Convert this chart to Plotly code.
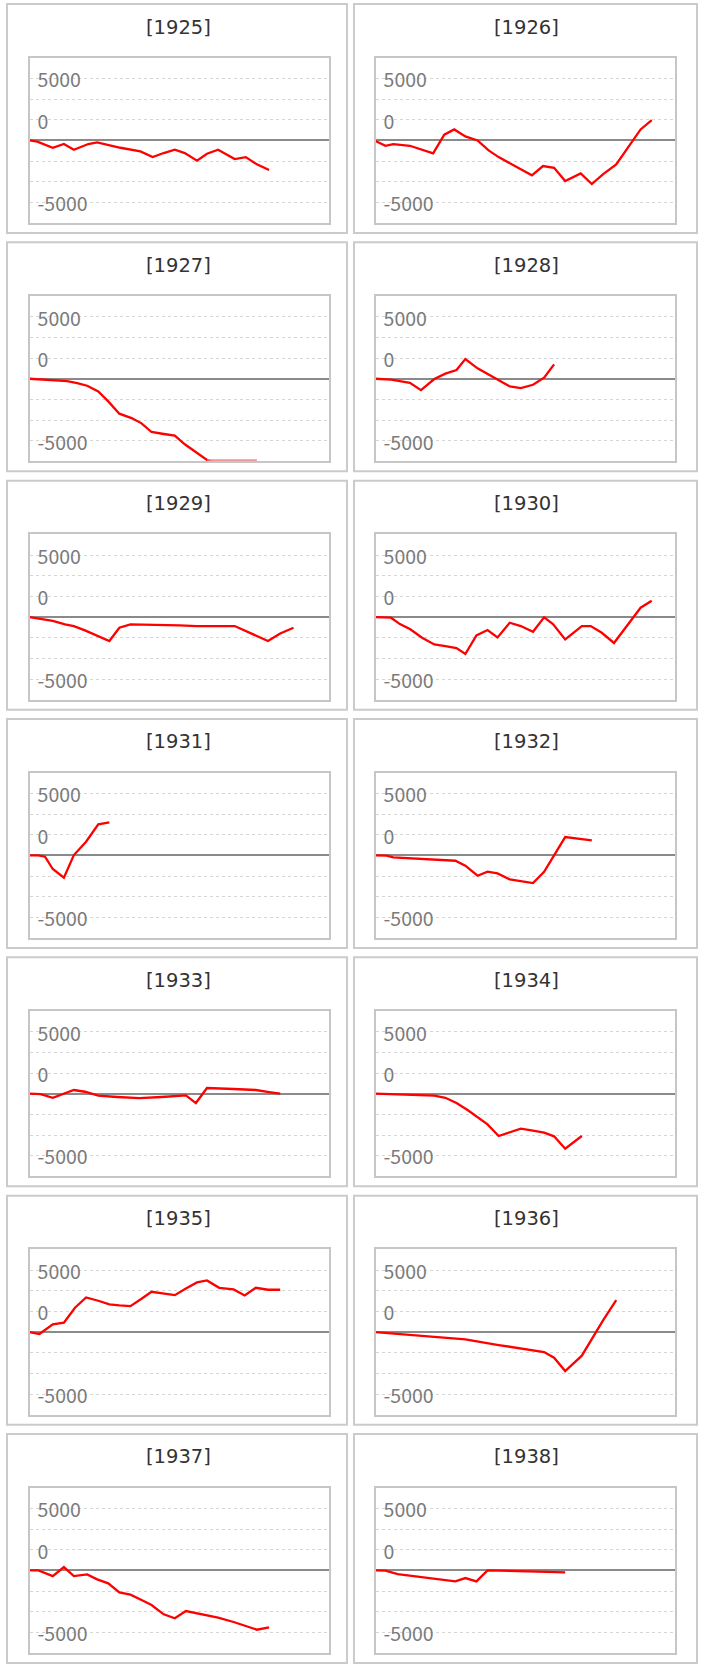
import plotly.graph_objects as go

W, H = 704, 1667

years = [1925, 1926, 1927, 1928, 1929, 1930, 1931, 1932, 1933, 1934, 1935, 1936, 1937, 1938]

x_1925 = [0, 0.7, 2.1, 3.1, 4.0, 5.3, 6.1, 8.2, 10.0, 11.1, 12.1, 13.1, 14.0, 15.1, 16.0, 17.0, 18.5, 19.5, 20.5, 21.6]
v_1925 = [0, -160, -890, -440, -1130, -440, -240, -890, -1330, -2020, -1530, -1130, -1530, -2460, -1610, -1130, -2260, -2020, -2900, -3590]

x_1926 = [0, 0.9, 1.6, 3.1, 5.2, 6.2, 7.1, 8.1, 9.2, 10.2, 11.1, 13.1, 14.1, 15.1, 16.1, 17.1, 18.5, 19.5, 20.5, 21.7, 22.8, 23.9, 24.9]
v_1926 = [-80, -650, -450, -650, -1570, 690, 1330, 490, 0, -1210, -2020, -3470, -4230, -3100, -3310, -4920, -3990, -5280, -4110, -2900, -730, 1330, 2460]

x_1927 = [0, 1.9, 3.4, 4.3, 5.2, 6.2, 7.1, 8.1, 9.2, 10.1, 11.0, 12.1, 13.1, 14.0, 15.1, 16.0, 17.5, 19.0, 20.5]
v_1927 = [0, -120, -280, -530, -850, -1530, -2740, -4230, -4760, -5400, -6450, -6690, -6890, -7940, -9030, -9830, -10600, -11000, -11200]

x_1928 = [0, 1.4, 3.1, 4.1, 5.3, 6.3, 7.3, 8.1, 9.2, 10.1, 11.0, 12.1, 13.1, 14.2, 15.2, 16.1]
v_1928 = [0, -120, -490, -1380, -40, 610, 1050, 2390, 1260, 610, -40, -930, -1130, -730, 120, 1740]

x_1929 = [0, 1.0, 2.1, 3.2, 4.0, 5.0, 6.2, 7.2, 8.1, 9.1, 13.5, 15.1, 18.5, 20.0, 21.5, 22.6, 23.8]
v_1929 = [0, -240, -450, -890, -1090, -1610, -2340, -2900, -1290, -890, -1010, -1090, -1090, -1980, -2900, -1980, -1290]

x_1930 = [0, 1.4, 2.2, 3.1, 4.2, 5.3, 6.3, 7.3, 8.1, 9.1, 10.1, 11.0, 12.1, 13.1, 14.2, 15.2, 16.0, 17.1, 18.6, 19.4, 20.4, 21.5, 23.9, 24.9]
v_1930 = [0, -80, -850, -1450, -2500, -3310, -3510, -3750, -4470, -2220, -1570, -2460, -690, -1090, -1780, -40, -850, -2700, -1090, -1090, -1900, -3140, 1130, 1980]

x_1931 = [0, 0.8, 1.4, 2.1, 3.1, 4.0, 5.1, 6.2, 7.2]
v_1931 = [0, 0, -160, -1650, -2700, 40, 1650, 3750, 3990]

x_1932 = [0, 1.0, 1.6, 7.2, 8.1, 9.2, 10.1, 11.0, 12.1, 13.1, 14.2, 15.2, 17.1, 19.5]
v_1932 = [0, -40, -240, -650, -1250, -2460, -1980, -2180, -2900, -3100, -3350, -1980, 2220, 1820]

x_1933 = [0, 1.0, 2.1, 3.0, 4.0, 5.0, 6.2, 7.9, 9.9, 11.9, 14.1, 15.0, 16.0, 18.4, 20.4, 21.6, 22.6]
v_1933 = [0, -40, -490, -40, 450, 240, -240, -400, -530, -400, -200, -1130, 690, 570, 450, 200, 0]

x_1934 = [0, 5.3, 6.3, 7.3, 8.3, 9.2, 10.1, 11.1, 12.1, 13.1, 14.2, 15.2, 16.1, 17.1, 18.6]
v_1934 = [0, -240, -490, -1130, -1980, -2820, -3710, -5120, -4720, -4230, -4470, -4720, -5160, -6650, -5120]

x_1935 = [0, 0.9, 2.1, 3.1, 4.1, 5.1, 6.2, 7.2, 8.1, 9.1, 10.1, 11.0, 12.0, 13.1, 14.1, 15.1, 16.0, 17.1, 18.4, 19.4, 20.4, 21.5, 22.6]
v_1935 = [0, -240, 930, 1130, 2940, 4190, 3790, 3350, 3230, 3140, 4030, 4880, 4680, 4470, 5280, 6010, 6250, 5360, 5160, 4430, 5360, 5120, 5120]

x_1936 = [0, 4.0, 8.1, 11.1, 13.1, 15.2, 16.1, 17.1, 18.6, 19.5, 20.5, 21.7]
v_1936 = [0, -450, -890, -1570, -2020, -2420, -3100, -4720, -2860, -770, 1370, 3870]

x_1937 = [0, 0.8, 2.1, 3.1, 4.0, 5.2, 6.1, 7.1, 8.1, 9.1, 10.1, 11.0, 12.1, 13.1, 14.1, 15.4, 17.0, 18.4, 19.4, 20.5, 21.6]
v_1937 = [0, 0, -690, 400, -690, -490, -1090, -1570, -2660, -2940, -3590, -4190, -5320, -5800, -4920, -5240, -5720, -6250, -6650, -7180, -6890]

x_1938 = [0, 0.9, 2.0, 7.2, 8.1, 9.1, 10.1, 17.1]
v_1938 = [0, -40, -450, -1330, -930, -1330, 0, -240]

tick_vals = [-7500, -5000, -2500, 0, 2500, 5000, 7500]
tick_text = ["-5000", "", "", "", "0", "", "5000"]
Y_MIN, Y_MAX = -10000, 10000
X_MAX = 27

series = [
    (1925, x_1925, v_1925), (1926, x_1926, v_1926), (1927, x_1927, v_1927),
    (1928, x_1928, v_1928), (1929, x_1929, v_1929), (1930, x_1930, v_1930),
    (1931, x_1931, v_1931), (1932, x_1932, v_1932), (1933, x_1933, v_1933),
    (1934, x_1934, v_1934), (1935, x_1935, v_1935), (1936, x_1936, v_1936),
    (1937, x_1937, v_1937), (1938, x_1938, v_1938),
]

ROW_PITCH = 238.33
BOX_X = [(7, 347), (354, 697)]
PLOT_X = [(29.5, 329), (375.5, 675)]
TICK_FONT = dict(family="Noto Sans CJK JP", size=19.5, color="#7b7b7b")
TITLE_FONT = dict(family="DejaVu Sans", size=19.5, color="#333333")


def fx(px):
    return px / W


def fy(py):
    return 1 - py / H


fig = go.Figure()
shapes = []
annotations = []
layout_axes = {}

for i, (year, xs, vs) in enumerate(series):
    r, c = divmod(i, 2)
    top = 4 + ROW_PITCH * r
    n = i + 1
    xa = "x" if n == 1 else f"x{n}"
    ya = "y" if n == 1 else f"y{n}"

    fig.add_trace(go.Scatter(
        x=xs, y=vs, mode="lines", xaxis=xa, yaxis=ya,
        line=dict(color="#ff0000", width=2.3), hoverinfo="skip", showlegend=False,
    ))

    # values below the axis floor are drawn faintly along the bottom edge
    under = [k for k, v in enumerate(vs) if v < Y_MIN]
    if under:
        ks = [under[0] - 1] + under
        fig.add_trace(go.Scatter(
            x=[xs[k] for k in ks], y=[Y_MIN * 0.988 for _ in ks], mode="lines",
            xaxis=xa, yaxis=ya, line=dict(color="rgba(235,130,130,0.85)", width=2),
            hoverinfo="skip", showlegend=False,
        ))

    px0, px1 = PLOT_X[c]
    key = "" if n == 1 else str(n)
    layout_axes[f"xaxis{key}"] = dict(
        domain=[fx(px0), fx(px1)], range=[0, X_MAX], anchor=ya,
        showgrid=False, zeroline=False, showticklabels=False, ticks="",
        showline=True, mirror=True, linecolor="#c6c6c6", linewidth=2,
        fixedrange=True,
    )
    layout_axes[f"yaxis{key}"] = dict(
        domain=[fy(top + 219), fy(top + 53.8)], range=[Y_MIN, Y_MAX], anchor=xa,
        tickvals=tick_vals, ticktext=tick_text, ticks="",
        ticklabelposition="inside", ticklabelstandoff=9, ticklabelshift=2,
        tickfont=TICK_FONT,
        showgrid=True, gridcolor="#d6d6d6", gridwidth=1, griddash="dot",
        zeroline=True, zerolinecolor="#8a8a8a", zerolinewidth=2,
        showline=True, mirror=True, linecolor="#c6c6c6", linewidth=2,
        fixedrange=True,
    )

    bx0, bx1 = BOX_X[c]
    shapes.append(dict(
        type="rect", xref="paper", yref="paper",
        x0=fx(bx0), x1=fx(bx1), y0=fy(top + 229), y1=fy(top),
        line=dict(color="#cbcbcb", width=2), fillcolor="rgba(0,0,0,0)", layer="below",
    ))
    annotations.append(dict(
        text=f"[{year}]", xref="paper", yref="paper",
        x=fx((bx0 + bx1) / 2 + 1), y=fy(top + 23), xanchor="center", yanchor="middle",
        showarrow=False, font=TITLE_FONT,
    ))

fig.update_layout(
    width=W, height=H, margin=dict(l=0, r=0, t=0, b=0),
    paper_bgcolor="white", plot_bgcolor="white",
    shapes=shapes, annotations=annotations, showlegend=False,
    **layout_axes,
)

fig.write_html(
    "out.html",
    config={"displayModeBar": False},
    post_script="document.body.style.margin='0';document.body.style.overflow='hidden';",
)
